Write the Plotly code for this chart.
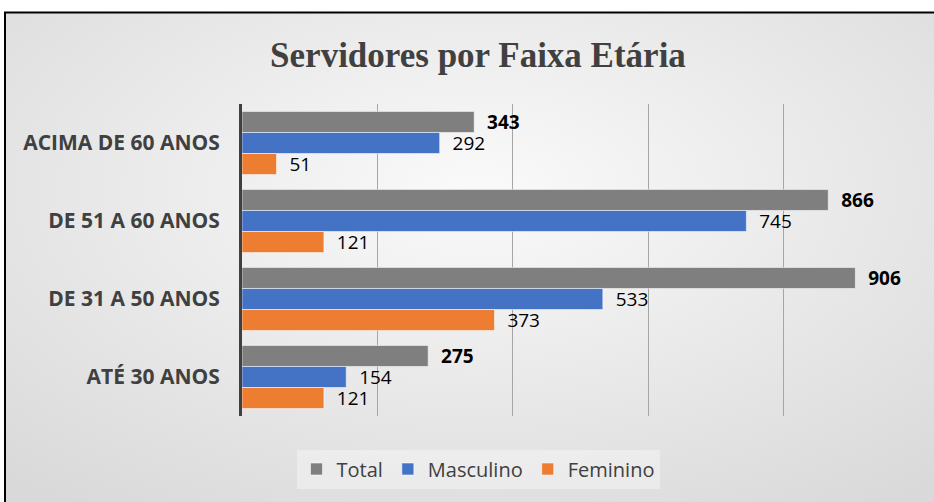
import base64
import plotly.graph_objects as go

categories = ["ACIMA DE 60 ANOS", "DE 51 A 60 ANOS", "DE 31 A 50 ANOS", "ATÉ 30 ANOS"]
total = [343, 866, 906, 275]
masculino = [292, 745, 533, 154]
feminino = [51, 121, 373, 121]
series_names = ["Total", "Masculino", "Feminino"]
x_ticks = [0, 200, 400, 600, 800, 1000]

W, H = 934, 502
ML, MR, MT, MB = 242, 15, 104, 86
PW, PH = W - ML - MR, H - MT - MB

svg = f'''<svg xmlns="http://www.w3.org/2000/svg" width="{W}" height="{H}" viewBox="0 0 {W} {H}" preserveAspectRatio="none">
<defs><radialGradient id="g" cx="50%" cy="35%" r="75%">
<stop offset="0" stop-color="#FAFAFA"/><stop offset="1" stop-color="#D9D9D9"/></radialGradient></defs>
<rect x="0" y="0" width="{W}" height="{H}" fill="#FFFFFF"/>
<rect x="5" y="12.5" width="{W+10}" height="{H+10}" fill="url(#g)" stroke="#000000" stroke-width="2"/>
</svg>'''
src = "data:image/svg+xml;base64," + base64.b64encode(svg.encode()).decode()

fig = go.Figure()
colors = ["#7F7F7F", "#4472C4", "#ED7D31"]
for name, vals, col in zip(series_names, [total, masculino, feminino], colors):
    bold = name == "Total"
    fig.add_trace(go.Bar(
        name=name, y=categories, x=vals, orientation="h",
        marker=dict(color=col, line=dict(color="rgba(255,255,255,0.55)", width=1)),
        text=[("\u00a0\u00a0<b>%d</b>" if bold else "\u00a0\u00a0%d") % v for v in vals],
        textposition="outside", cliponaxis=False, constraintext="none",
        textfont=dict(family="Open Sans, Liberation Sans, sans-serif", size=19, color="#000000"),
    ))

fig.update_layout(
    width=W, height=H,
    margin=dict(l=ML, r=MR, t=MT, b=MB),
    paper_bgcolor="rgba(0,0,0,0)", plot_bgcolor="rgba(0,0,0,0)",
    barmode="group", bargap=0.19, bargroupgap=0.0,
    title=dict(text="<b>Servidores por Faixa Etária</b>", x=478 / W, xanchor="center",
               y=1 - 55 / H, yanchor="middle",
               font=dict(family="Liberation Serif, Times New Roman, serif", size=35, color="#404040")),
    xaxis=dict(range=[0, 1000], tickvals=x_ticks, showticklabels=False, showgrid=True,
               gridcolor="#A6A6A6", gridwidth=1.3, zeroline=False, showline=False, fixedrange=True),
    yaxis=dict(autorange="reversed", showline=True, linecolor="#404040", linewidth=3,
               ticks="", ticklabelstandoff=15,
               tickfont=dict(family="Open Sans, Liberation Sans, sans-serif", size=21, color="#404040",
                             weight="bold")),
    showlegend=True,
    legend=dict(orientation="h", xref="paper", yref="paper",
                x=(478 - ML) / PW, xanchor="center", y=(H - MB - 469) / PH, yanchor="middle",
                bgcolor="rgba(255,255,255,0.35)", borderwidth=0,
                font=dict(family="Open Sans, Liberation Sans, sans-serif", size=20, color="#404040"),
                itemwidth=30, traceorder="normal"),
    images=[dict(source=src, xref="paper", yref="paper",
                 x=-ML / PW, y=1 + MT / PH, sizex=W / PW, sizey=H / PH,
                 xanchor="left", yanchor="top", sizing="stretch", layer="below")],
)

fig.write_html("out.html", config={"displayModeBar": False},
               post_script="document.body.style.margin='0';document.body.style.overflow='hidden';")
